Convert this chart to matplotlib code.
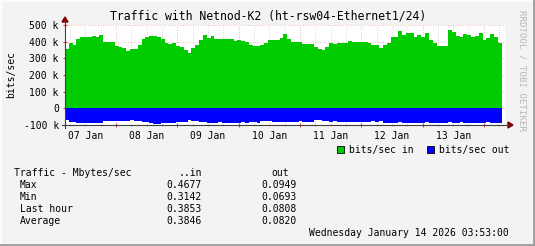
import matplotlib
matplotlib.use("Agg")
import matplotlib.pyplot as plt
from matplotlib.patches import Rectangle, Polygon
from matplotlib.lines import Line2D
import numpy as np

# traffic samples, one every 1.5 hours starting Jan 7 04:00 (bits/sec, in thousands)
start_hour = 4.0
step_hours = 1.5
bits_in = [357, 394, 380, 415, 426, 430, 428, 434, 428, 440,
           400, 400, 400, 374, 366, 364, 346, 356, 356, 380,
           414, 426, 434, 434, 428, 418, 394, 388, 390, 372,
           370, 350, 330, 364, 380, 410, 440, 420, 432, 416,
           416, 416, 416, 416, 402, 410, 406, 398, 380, 374,
           374, 378, 394, 410, 410, 410, 420, 446, 414, 400,
           400, 398, 386, 386, 384, 366, 354, 352, 368, 392,
           388, 390, 390, 392, 402, 396, 400, 396, 398, 390,
           382, 378, 360, 378, 390, 430, 428, 462, 442, 450,
           452, 430, 440, 430, 455, 410, 394, 376, 374, 374,
           470, 460, 434, 430, 444, 440, 426, 434, 450, 410,
           420, 444, 430, 394]
bits_out = [72, 82, 82, 86, 86, 86, 86, 86, 86, 86,
            78, 78, 78, 78, 74, 74, 74, 70, 76, 78,
            80, 84, 86, 93, 91, 86, 86, 86, 86, 84,
            84, 82, 71, 74, 78, 82, 84, 86, 86, 86,
            84, 86, 86, 86, 86, 86, 80, 86, 80, 80,
            86, 78, 78, 78, 84, 84, 84, 84, 84, 84,
            84, 78, 84, 84, 84, 72, 72, 78, 78, 82,
            78, 84, 84, 84, 84, 84, 84, 84, 84, 80,
            78, 82, 78, 88, 90, 90, 90, 84, 90, 90,
            90, 90, 90, 90, 84, 86, 90, 90, 90, 90,
            84, 90, 90, 84, 90, 90, 90, 90, 86, 90,
            84, 90, 90, 90]

day_labels = ["07 Jan", "08 Jan", "09 Jan", "10 Jan", "11 Jan", "12 Jan", "13 Jan"]
y_ticks = [-100000, 0, 100000, 200000, 300000, 400000, 500000]
y_tick_labels = ["-100 k", "0", "100 k", "200 k", "300 k", "400 k", "500 k"]

stat_rows = ["Max", "Min", "Last hour", "Average"]
stat_in = ["0.4677", "0.3142", "0.3853", "0.3846"]
stat_out = ["0.0949", "0.0693", "0.0808", "0.0820"]

W, H = 535, 246
MONO = "DejaVu Sans Mono"
plt.rcParams["font.family"] = MONO


def fx(x):
    return x / W


def fy(y):
    return 1 - y / H


fig = plt.figure(figsize=(W / 100, H / 100), dpi=100, facecolor="#f3f3f3")
ax = fig.add_axes([fx(65), fy(125), fx(505) - fx(65), fy(25) - fy(125)])
ax.set_facecolor("white")

edges = start_hour + step_hours * np.arange(len(bits_in) + 1)
vin = np.array(bits_in) * 1000.0
vout = -np.array(bits_out) * 1000.0

# grid
for h in range(6, 180, 6):
    if h % 24 == 0:
        ax.axvline(h, color="#e8a0a0", lw=0.6, ls=(0, (1, 2)), zorder=1)
    else:
        ax.axvline(h, color="#d2c8c8", lw=0.6, ls=(0, (1, 2)), zorder=1)
for v in y_ticks[1:]:
    ax.axhline(v, color="#e8a0a0", lw=0.6, ls=(0, (1, 2)), zorder=1)

ax.stairs(vin, edges, baseline=0, fill=True, color="#00cc00", zorder=2)
ax.stairs(vout, edges, baseline=0, fill=True, color="#0000ff", zorder=2)

ax.set_xlim(start_hour, 176.3)
ax.set_ylim(-100000, 500000)

ax.set_xticks(range(24, 170, 24))
ax.set_xticks([h for h in range(6, 177, 6) if h % 24], minor=True)
ax.set_xticklabels([])
ax.set_yticks(y_ticks)
ax.set_yticklabels(y_tick_labels, fontsize=7)
ax.tick_params(axis="x", which="major", length=3, color="#d04040", direction="inout")
ax.tick_params(axis="x", which="minor", length=2, color="#a0a0a0", direction="inout")
ax.tick_params(axis="y", length=3, color="#d04040", direction="inout", pad=3)
for s in ax.spines.values():
    s.set_visible(False)

for i, lab in enumerate(day_labels):
    ax.text(12 + 24 * i, -0.06, lab, transform=ax.get_xaxis_transform(),
            ha="center", va="top", fontsize=7)

# axes with arrows
fig.add_artist(Line2D([fx(65), fx(65)], [fy(128), fy(21)], color="#404040", lw=0.8))
fig.add_artist(Line2D([fx(62), fx(509)], [fy(125), fy(125)], color="#404040", lw=0.8))
fig.add_artist(Polygon([[fx(62), fy(22)], [fx(68), fy(22)], [fx(65), fy(17)]],
                       closed=True, color="#800000"))
fig.add_artist(Polygon([[fx(508), fy(122)], [fx(508), fy(128)], [fx(513), fy(125)]],
                       closed=True, color="#800000"))

fig.text(fx(268), fy(16), "Traffic with Netnod-K2 (ht-rsw04-Ethernet1/24)",
         ha="center", va="center", fontsize=8.3)
fig.text(fx(11), fy(75), "bits/sec", rotation=90, ha="center", va="center", fontsize=7)
fig.text(fx(522), fy(70), "RRDTOOL / TOBI OETIKER", rotation=270,
         ha="center", va="center", fontsize=6.6, color="#b8b8b8")

# legend
fig.add_artist(Rectangle((fx(337), fy(153)), fx(7), 7 / H, facecolor="#00cc00",
                         edgecolor="black", lw=0.6))
fig.text(fx(349), fy(150), "bits/sec in", ha="left", va="center", fontsize=7)
fig.add_artist(Rectangle((fx(427), fy(153)), fx(7), 7 / H, facecolor="#0000ff",
                         edgecolor="black", lw=0.6))
fig.text(fx(439), fy(150), "bits/sec out", ha="left", va="center", fontsize=7)

# stats block
fig.text(fx(14.5), fy(173.5), "Traffic - Mbytes/sec", ha="left", va="center", fontsize=7)
fig.text(fx(202), fy(173.5), "..in", ha="right", va="center", fontsize=7)
fig.text(fx(289), fy(173.5), "out", ha="right", va="center", fontsize=7)
for i, row in enumerate(stat_rows):
    yy = 185.5 + 12 * i
    fig.text(fx(20), fy(yy), row, ha="left", va="center", fontsize=7)
    fig.text(fx(202), fy(yy), stat_in[i], ha="right", va="center", fontsize=7)
    fig.text(fx(297), fy(yy), stat_out[i], ha="right", va="center", fontsize=7)
fig.text(fx(509), fy(233.5), "Wednesday January 14 2026 03:53:00",
         ha="right", va="center", fontsize=7)

# 3d frame
fig.add_artist(Line2D([0, 1], [fy(0.5), fy(0.5)], color="#fcfcfc", lw=1.5))
fig.add_artist(Line2D([fx(0.5), fx(0.5)], [0, 1], color="#fcfcfc", lw=1.5))
fig.add_artist(Line2D([0, 1], [fy(245), fy(245)], color="#9e9e9e", lw=2))
fig.add_artist(Line2D([fx(534), fx(534)], [0, 1], color="#9e9e9e", lw=2))

fig.savefig("out.png", dpi=100, facecolor=fig.get_facecolor())
